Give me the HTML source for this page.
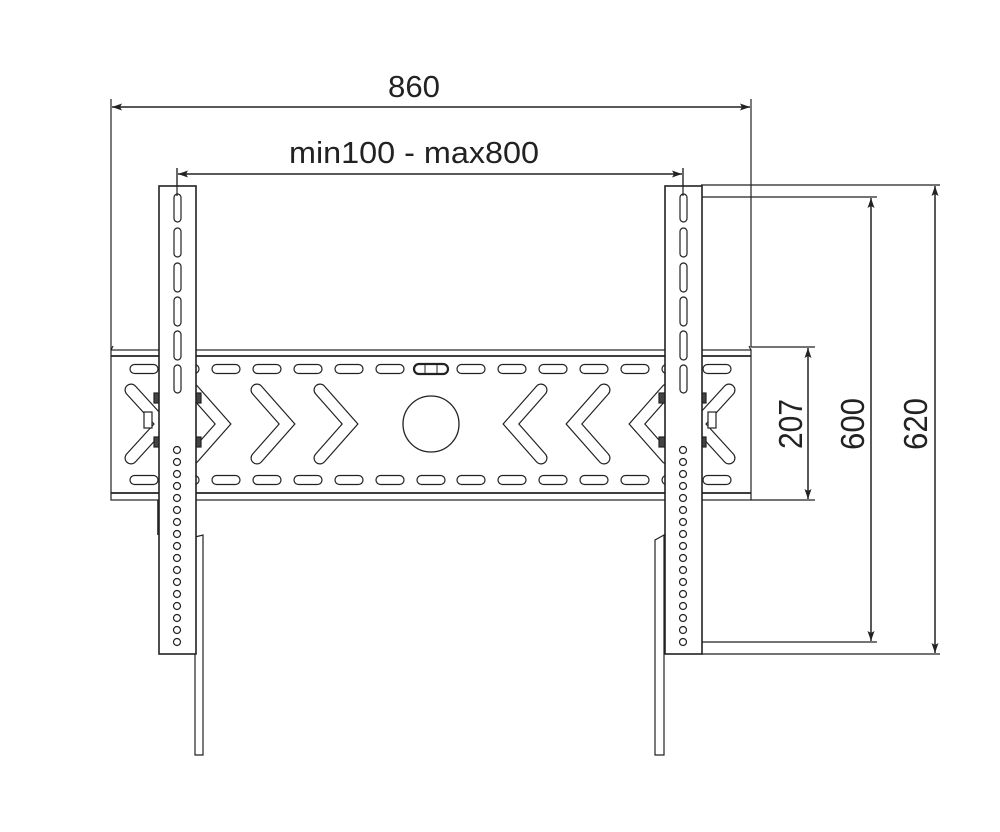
<!DOCTYPE html>
<html><head><meta charset="utf-8"><style>
html,body{margin:0;padding:0;background:#fff}
svg{display:block}
text{font-family:"Liberation Sans",sans-serif;fill:#222}
</style></head><body>
<svg width="1000" height="832" viewBox="0 0 1000 832" xmlns="http://www.w3.org/2000/svg">
<defs>
<marker id="a" viewBox="0 0 10 10" refX="10" refY="5" markerWidth="10" markerHeight="10" markerUnits="userSpaceOnUse" orient="auto-start-reverse">
<path d="M0,1.5 L10,5 L0,8.5 L2,5 z" fill="#222"/></marker>
<g id="slot"><rect x="-14" y="-4.5" width="28" height="9" rx="4.5" fill="#fff" stroke="#222" stroke-width="1.2"/></g>
</defs>
<g stroke="#222" fill="none" stroke-width="1.2">
<!-- dimension extension lines -->
<line x1="111" y1="99" x2="111" y2="350"/>
<line x1="751" y1="99" x2="751" y2="347"/>
<line x1="177" y1="168" x2="177" y2="196"/>
<line x1="683" y1="168" x2="683" y2="196"/>
<line x1="701" y1="185" x2="940" y2="185"/>
<line x1="683" y1="197" x2="877" y2="197"/>
<line x1="683" y1="642" x2="877" y2="642"/>
<line x1="701" y1="654" x2="940" y2="654"/>
<line x1="751" y1="347" x2="815" y2="347"/>
<line x1="751" y1="500" x2="815" y2="500"/>
<!-- dim arrows -->
<line x1="112" y1="107" x2="750" y2="107" marker-start="url(#a)" marker-end="url(#a)" stroke-width="1.5"/>
<line x1="178" y1="174" x2="682" y2="174" marker-start="url(#a)" marker-end="url(#a)" stroke-width="1.5"/>
<line x1="808" y1="348" x2="808" y2="499" marker-start="url(#a)" marker-end="url(#a)" stroke-width="1.5"/>
<line x1="871" y1="198" x2="871" y2="641" marker-start="url(#a)" marker-end="url(#a)" stroke-width="1.5"/>
<line x1="935" y1="186" x2="935" y2="653" marker-start="url(#a)" marker-end="url(#a)" stroke-width="1.5"/>
<!-- legs -->
<path d="M195,537 L203,535 L203,755 L195,755 Z" fill="#fff"/>
<path d="M655,540 L664,535 L664,755 L655,755 Z" fill="#fff"/>
<line x1="158" y1="500" x2="158" y2="535" stroke-width="1.6"/>
<!-- rail -->
<rect x="111" y="350" width="640" height="150" fill="#fff"/>
<line x1="111" y1="356" x2="751" y2="356" stroke-width="1.8"/>
<line x1="111" y1="493" x2="751" y2="493" stroke-width="1.8"/>
<path d="M111,350 L113,346" />
<path d="M751,350 L749,346" />
</g>
<!-- slots -->
<g>
<use href="#slot" x="144" y="369"/><use href="#slot" x="185" y="369"/>
<use href="#slot" x="226" y="369"/><use href="#slot" x="267" y="369"/><use href="#slot" x="308" y="369"/><use href="#slot" x="349" y="369"/><use href="#slot" x="390" y="369"/>
<use href="#slot" x="471" y="369"/><use href="#slot" x="512" y="369"/><use href="#slot" x="553" y="369"/><use href="#slot" x="594" y="369"/><use href="#slot" x="635" y="369"/><use href="#slot" x="676" y="369"/><use href="#slot" x="717" y="369"/>
<use href="#slot" x="144" y="480"/><use href="#slot" x="185" y="480"/>
<use href="#slot" x="226" y="480"/><use href="#slot" x="267" y="480"/><use href="#slot" x="308" y="480"/><use href="#slot" x="349" y="480"/><use href="#slot" x="390" y="480"/><use href="#slot" x="431" y="480"/>
<use href="#slot" x="471" y="480"/><use href="#slot" x="512" y="480"/><use href="#slot" x="553" y="480"/><use href="#slot" x="594" y="480"/><use href="#slot" x="635" y="480"/><use href="#slot" x="676" y="480"/><use href="#slot" x="717" y="480"/>
<rect x="414" y="364" width="34" height="10" rx="5" fill="#fff" stroke="#222" stroke-width="2.2"/>
<line x1="425" y1="365" x2="425" y2="373" stroke="#222"/><line x1="437" y1="365" x2="437" y2="373" stroke="#222"/>
</g>
<!-- chevrons -->
<g fill="none" stroke-linecap="round" stroke-linejoin="miter">
<g stroke="#222" stroke-width="13">
<path d="M257,390 L287,424 L257,458"/><path d="M320,390 L350,424 L320,458"/>
<path d="M541,390 L511,424 L541,458"/><path d="M604,390 L574,424 L604,458"/>
<path d="M193,390 L223,424 L193,458"/><path d="M667,390 L637,424 L667,458"/>
<path d="M131,390 L162,424 M131,458 L162,424"/><path d="M729,390 L698,424 M729,458 L698,424"/>
</g>
<g stroke="#fff" stroke-width="10.6">
<path d="M257,390 L287,424 L257,458"/><path d="M320,390 L350,424 L320,458"/>
<path d="M541,390 L511,424 L541,458"/><path d="M604,390 L574,424 L604,458"/>
<path d="M193,390 L223,424 L193,458"/><path d="M667,390 L637,424 L667,458"/>
<path d="M131,390 L162,424 M131,458 L162,424"/><path d="M729,390 L698,424 M729,458 L698,424"/>
</g>
</g>
<circle cx="431" cy="424" r="28" fill="#fff" stroke="#222" stroke-width="1.3"/>
<!-- bolts -->
<g fill="#fff" stroke="#222" stroke-width="1.2">
<rect x="144" y="412" width="8" height="16"/><rect x="708" y="412" width="8" height="16"/>
<rect x="154" y="393" width="6" height="10" fill="#444"/><rect x="154" y="437" width="6" height="10" fill="#444"/>
<rect x="195" y="393" width="6" height="10" fill="#444"/><rect x="195" y="437" width="6" height="10" fill="#444"/>
<rect x="659" y="393" width="6" height="10" fill="#444"/><rect x="659" y="437" width="6" height="10" fill="#444"/>
<rect x="700" y="393" width="6" height="10" fill="#444"/><rect x="700" y="437" width="6" height="10" fill="#444"/>
</g>
<!-- uprights -->
<g stroke="#222" stroke-width="1.6" fill="#fff">
<rect x="159" y="186" width="37" height="468"/>
<rect x="665" y="186" width="37" height="468"/>
</g>
<g fill="#fff" stroke="#222" stroke-width="1.2">
<rect x="174" y="194" width="7" height="28" rx="3.5"/><rect x="174" y="228" width="7" height="29" rx="3.5"/><rect x="174" y="263" width="7" height="29" rx="3.5"/><rect x="174" y="297" width="7" height="29" rx="3.5"/><rect x="174" y="331" width="7" height="29" rx="3.5"/><rect x="174" y="365" width="7" height="28" rx="3.5"/>
<rect x="680" y="194" width="7" height="28" rx="3.5"/><rect x="680" y="228" width="7" height="29" rx="3.5"/><rect x="680" y="263" width="7" height="29" rx="3.5"/><rect x="680" y="297" width="7" height="29" rx="3.5"/><rect x="680" y="331" width="7" height="29" rx="3.5"/><rect x="680" y="365" width="7" height="28" rx="3.5"/>
</g>
<g fill="#fff" stroke="#222" stroke-width="1.2">
<circle cx="177" cy="450" r="3.5"/><circle cx="177" cy="462" r="3.5"/><circle cx="177" cy="474" r="3.5"/><circle cx="177" cy="486" r="3.5"/><circle cx="177" cy="498" r="3.5"/><circle cx="177" cy="510" r="3.5"/><circle cx="177" cy="522" r="3.5"/><circle cx="177" cy="534" r="3.5"/><circle cx="177" cy="546" r="3.5"/><circle cx="177" cy="558" r="3.5"/><circle cx="177" cy="570" r="3.5"/><circle cx="177" cy="582" r="3.5"/><circle cx="177" cy="594" r="3.5"/><circle cx="177" cy="606" r="3.5"/><circle cx="177" cy="618" r="3.5"/><circle cx="177" cy="630" r="3.5"/><circle cx="177" cy="642" r="3.5"/>
<circle cx="683" cy="450" r="3.5"/><circle cx="683" cy="462" r="3.5"/><circle cx="683" cy="474" r="3.5"/><circle cx="683" cy="486" r="3.5"/><circle cx="683" cy="498" r="3.5"/><circle cx="683" cy="510" r="3.5"/><circle cx="683" cy="522" r="3.5"/><circle cx="683" cy="534" r="3.5"/><circle cx="683" cy="546" r="3.5"/><circle cx="683" cy="558" r="3.5"/><circle cx="683" cy="570" r="3.5"/><circle cx="683" cy="582" r="3.5"/><circle cx="683" cy="594" r="3.5"/><circle cx="683" cy="606" r="3.5"/><circle cx="683" cy="618" r="3.5"/><circle cx="683" cy="630" r="3.5"/><circle cx="683" cy="642" r="3.5"/>
</g>
<line x1="177" y1="168" x2="177" y2="196" stroke="#222" stroke-width="1.2"/>
<line x1="683" y1="168" x2="683" y2="196" stroke="#222" stroke-width="1.2"/>
<!-- labels -->
<text x="414" y="97" font-size="31" text-anchor="middle" textLength="52" lengthAdjust="spacingAndGlyphs">860</text>
<text x="414" y="163" font-size="31" text-anchor="middle" textLength="250" lengthAdjust="spacingAndGlyphs">min100 - max800</text>
<text transform="translate(802,424) rotate(-90)" font-size="33" text-anchor="middle" textLength="50" lengthAdjust="spacingAndGlyphs">207</text>
<text transform="translate(864,424) rotate(-90)" font-size="33" text-anchor="middle" textLength="52" lengthAdjust="spacingAndGlyphs">600</text>
<text transform="translate(927,424) rotate(-90)" font-size="33" text-anchor="middle" textLength="52" lengthAdjust="spacingAndGlyphs">620</text>
</svg>
</body></html>
